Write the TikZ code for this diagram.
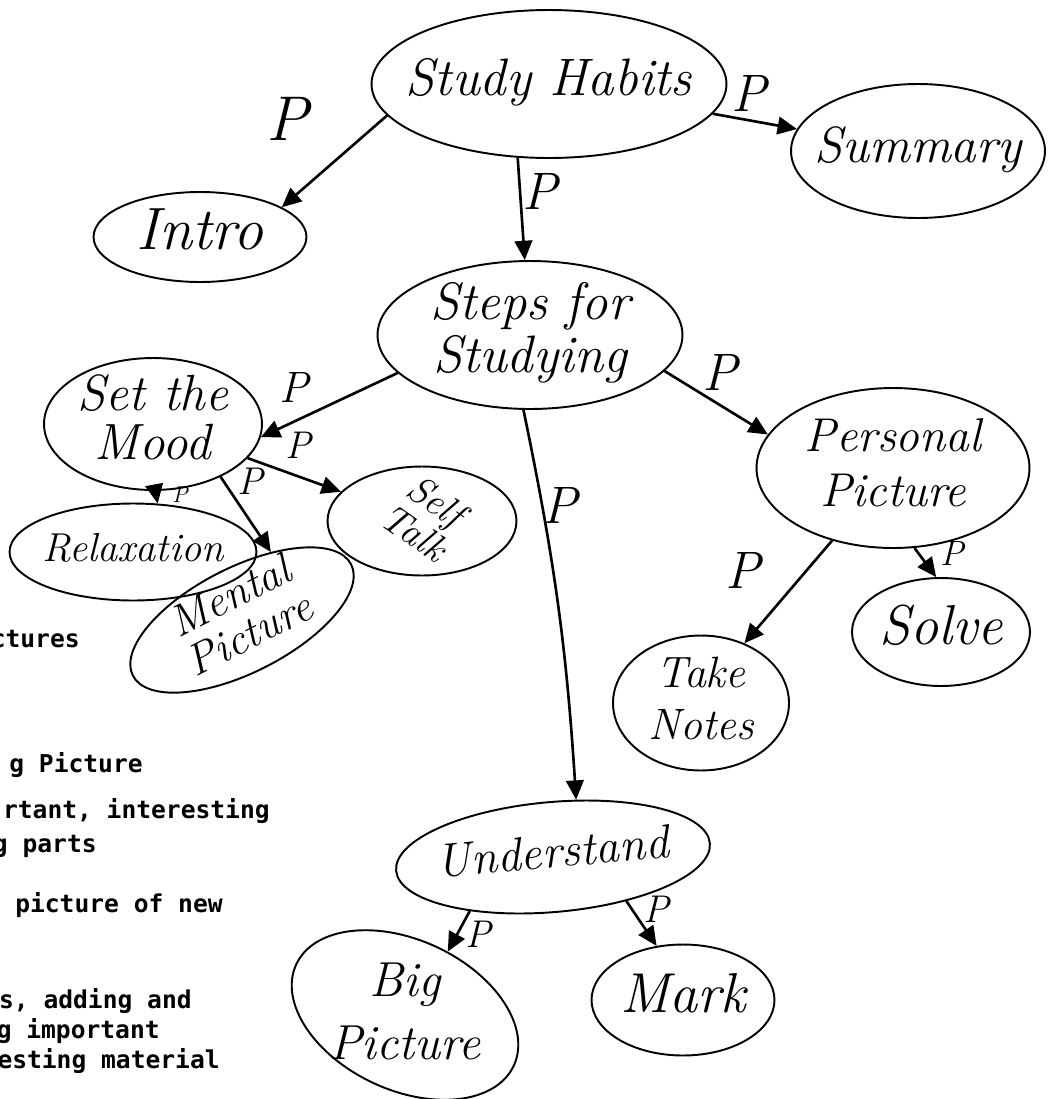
\documentclass[tikz,border=0pt]{standalone}
\usepackage{fontspec}
\usepackage{graphicx}
\usetikzlibrary{shapes.geometric,arrows.meta}
\newfontfamily\typed{DejaVu Sans Mono}
% zero-size text box, so the ellipse only follows minimum width/height
\newcommand{\handtext}[1]{\makebox[0pt]{\smash{\raisebox{\dimexpr(\depth-\height)/2\relax}{\begin{tabular}{@{}c@{}}#1\end{tabular}}}}}
\tikzset{
	topic/.style 2 args={draw, ellipse, line width=1.1pt, inner sep=0pt, minimum width=#1, minimum height=#2},
	hand/.style 2 args={font=\fontsize{#1}{#2}\selectfont\itshape},
	link/.style={line width=1.5pt, -{Triangle[length=11pt,width=10pt]}},
	plab/.style={font=\fontsize{#1}{#1}\selectfont\itshape, inner sep=0pt},
	plab/.default=24,
	typedline/.style={font=\typed\bfseries\fontsize{14}{16}\selectfont, inner sep=0pt, anchor=base east}
}

\begin{document}
\begin{tikzpicture}[x=0.02cm,y=-0.02cm]
	\useasboundingbox (0,0) rectangle (1053,1099);
	% typed notes, cut at the left edge
	\foreach \tx/\ty/\words [count=\i] in {80/647/ctures, 143/772/g Picture, 270/818/{rtant, interesting}, 97/852/g parts, 223/912/picture of new, 192/1008/{s, adding and}, 160/1038/g important, 220/1068/esting material}{
		\node[typedline] (typed\i) at (\tx,\ty) {\words};
	}
	% the map
	\node[topic={7.1cm}{2.96cm}, hand={30}{34}] (habits) at (549,84) {\handtext{Study Habits}};
	\node[topic={5.08cm}{2.68cm}, hand={29}{32}] (summary) at (918,151) {\handtext{Summary}};
	\node[topic={4.26cm}{1.8cm}, hand={34}{36}] (intro) at (200,237) {\handtext{Intro}};
	\node[topic={6.1cm}{2.96cm}, hand={30}{30}] (steps) at (530,335) {\handtext{Steps for\\Studying}};
	\node[topic={4.36cm}{2.64cm}, hand={29}{27}] (mood) at (153,424) {\handtext{Set the\\Mood}};
	\node[topic={5.46cm}{3.2cm}, hand={27}{31}] (personal) at (893,468) {\handtext{Personal\\Picture}};
	\node[topic={4.94cm}{1.94cm}, hand={23}{26}] (relax) at (133,552) {\handtext{Relaxation}};
	\node[topic={4.9cm}{2.1cm}, hand={25}{24}, rotate=27] (mental) at (242,620) {\handtext{Mental\\Picture}};
	\node[topic={3.78cm}{2.18cm}, hand={22}{22}] (selftalk) at (422,521) {\handtext{\rotatebox[origin=c]{-35}{\begin{tabular}{@{}c@{}}Self\\Talk\end{tabular}}}};
	\node[topic={3.52cm}{2.7cm}, hand={25}{30}] (notes) at (701,703) {\handtext{Take\\Notes}};
	\node[topic={3.56cm}{2.16cm}, hand={32}{36}] (solve) at (941,632) {\handtext{Solve}};
	\node[topic={6.3cm}{2.2cm}, hand={27}{30}, rotate=5] (understand) at (553,857) {\handtext{Understand}};
	\node[topic={4.8cm}{3.0cm}, hand={28}{36}, rotate=-25] (big) at (405,1015) {\handtext{\rotatebox[origin=c]{25}{\begin{tabular}{@{}c@{}}Big\\Picture\end{tabular}}}};
	\node[topic={3.66cm}{2.22cm}, hand={32}{36}] (mark) at (683,1000) {\handtext{Mark}};

	\draw[link] (habits.191) -- (intro.20);
	\draw[link] (habits) -- (summary);
	\draw[link] (habits.-113) -- (steps.94);
	\draw[link] (steps.196) -- (mood.-7);
	\draw[link] (steps.-15) -- (personal.165);
	\draw[link] (steps.-95) to[bend left=4] (understand.63);
	\draw[link] (mood.-88) -- (relax.63);
	\draw[link] (mood.-38) -- (mental.40);
	\draw[link] (mood) -- (selftalk);
	\draw[link] (personal.-130) -- (notes.54);
	\draw[link] (personal.-75) -- (solve.95);
	\draw[link] (understand.-152) -- (big.81);
	\draw[link] (understand.-36) -- (mark.116);

	% the P on each link
	\node[plab=36] (lIntro) at (287,119) {P};
	\node[plab=30] (lSummary) at (749,93) {P};
	\node[plab=30] (lSteps) at (540,191) {P};
	\node[plab=25] (lMood) at (294,387) {P};
	\node[plab=30] (lPersonal) at (720,372) {P};
	\node[plab=30] (lUnderstand) at (560,505) {P};
	\node[plab=22] (lSelftalk) at (298,445) {P};
	\node[plab=22] (lMental) at (250,481) {P};
	\node[plab=13] (lRelax) at (180,495) {P};
	\node[plab=30] (lNotes) at (743,570) {P};
	\node[plab=20] (lSolve) at (952,553) {P};
	\node[plab=22] (lBig) at (478,934) {P};
	\node[plab=22] (lMark) at (656,909) {P};
\end{tikzpicture}
\end{document}
